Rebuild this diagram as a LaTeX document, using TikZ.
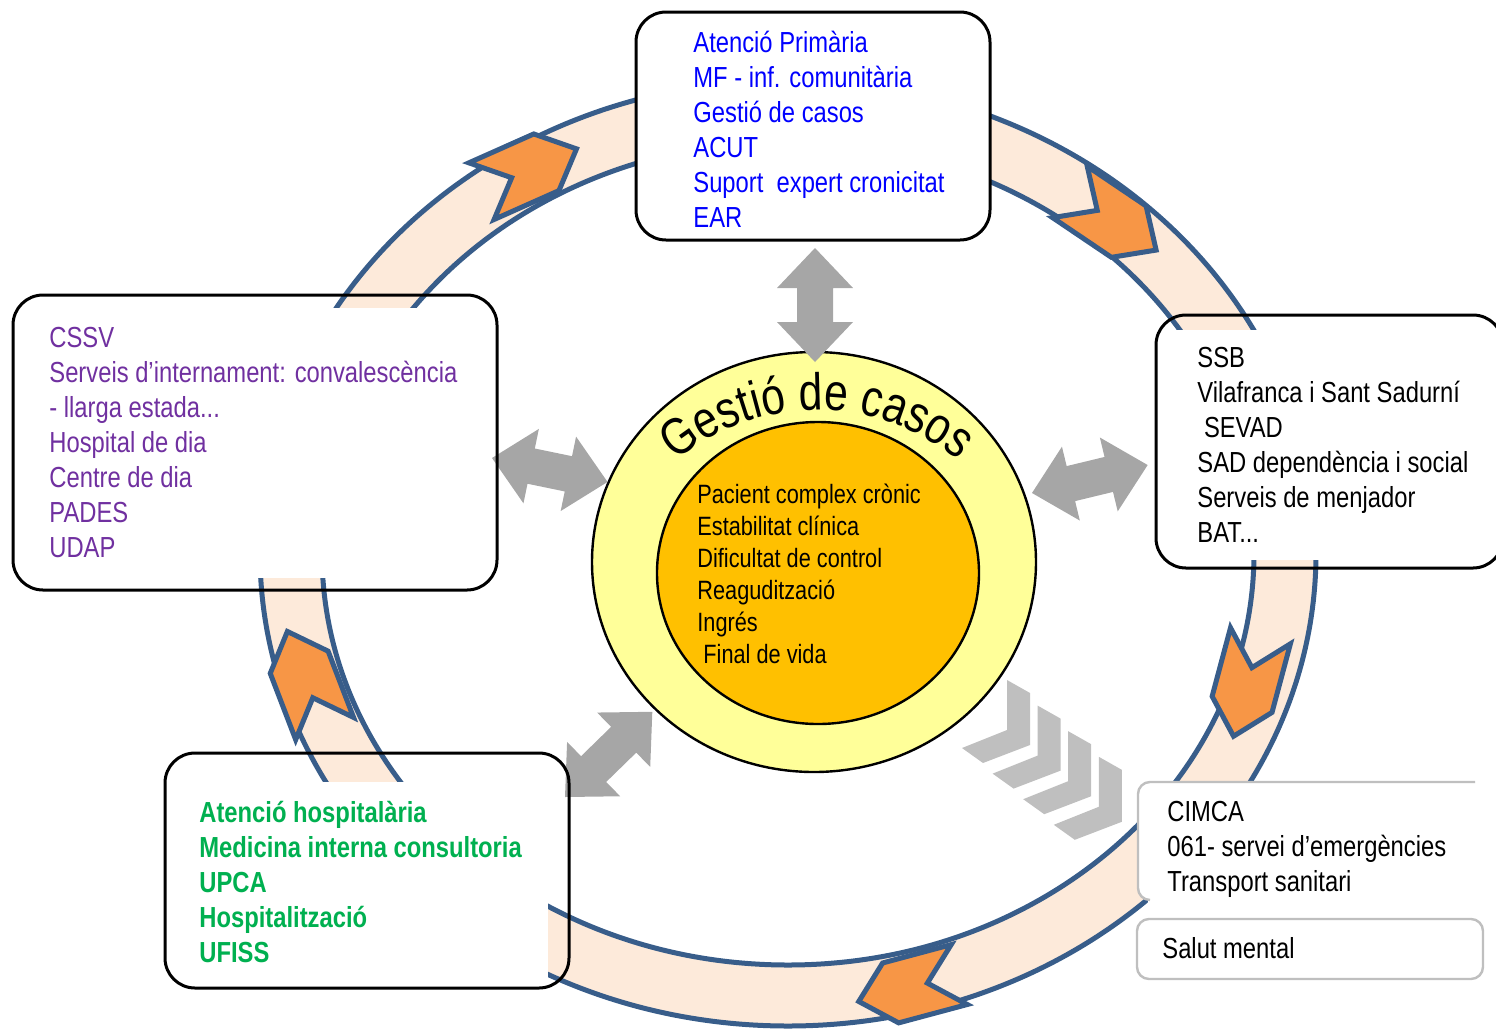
\documentclass[tikz,border=0pt]{standalone}
\usepackage{fontspec}
\setmainfont{Liberation Sans}[FakeStretch=0.82]
\usepackage{tikz}
\usetikzlibrary{decorations.text}
\definecolor{cRing}{HTML}{385D8A}
\definecolor{cBand}{HTML}{FDEADA}
\definecolor{cChev}{HTML}{F79646}
\definecolor{cArr}{HTML}{A6A6A6}
\definecolor{cStep}{HTML}{BFBFBF}
\definecolor{cYel}{HTML}{FFFF99}
\definecolor{cCore}{HTML}{FFC000}
\definecolor{cBlue}{HTML}{0000FF}
\definecolor{cPurp}{HTML}{7030A0}
\definecolor{cGreen}{HTML}{00B050}
\definecolor{cEdge}{HTML}{BFBFBF}
\tikzset{
  box/.style={draw=black, line width=1.5pt, rounded corners=15pt},
  gbox/.style={draw=cEdge, line width=1.2pt, rounded corners=6pt},
  cover/.style={fill=white},
  ringline/.style={draw=cRing, line width=2.5pt},
  disc/.style={draw=black, line width=1.2pt},
  txt/.style={anchor=north west, inner sep=0pt, align=left,
              font=\fontsize{14.5}{17.5}\selectfont},
  coretxt/.style={txt, font=\fontsize{13.25}{16}\selectfont},
  pics/dblarr/.style={code={
    \fill[cArr] (0,0) -- (40,38) -- (40,18) -- (#1-40,18) -- (#1-40,38)
      -- (#1,0) -- (#1-40,-38) -- (#1-40,-18) -- (40,-18) -- (40,-38) -- cycle;}},
  pics/notch/.style={code={
    \draw[ringline, fill=cChev, line join=miter]
      (-52,31) -- (19,31) -- (52,0) -- (19,-31) -- (-52,-31) -- (-19,0) -- cycle;}}
}
\begin{document}
\begin{tikzpicture}[x=0.5pt, y=-0.5pt]
\useasboundingbox (0,0) rectangle (1496,1030);
\coordinate (hub) at (788,553);
\coordinate (mid) at (814,562);
\coordinate (core) at (818,573);
% ----- ring -----
\fill[cBand, even odd rule] (hub) ellipse [x radius=528, y radius=473]
  (hub) ellipse [x radius=466, y radius=412];
\draw[ringline] (hub) ellipse [x radius=528, y radius=473];
\draw[ringline] (hub) ellipse [x radius=466, y radius=412];
\pic[rotate=24] at (529,170) {notch};
\pic[rotate=-34] at (1113,221) {notch};
\pic[rotate=-105] at (1247,686) {notch};
\pic[rotate=195] at (909,988) {notch};
\pic[rotate=111] at (306,680) {notch};
% ----- white text areas over the ring -----
\fill[cover, rounded corners=15pt] (636,12) rectangle (990,240);
\fill[cover] (15,308) rectangle (495,578);
\fill[cover] (1158,330) rectangle (1496,560);
\fill[cover] (167,782) rectangle (548,986);
\fill[cover, rounded corners=6pt] (1138,782) rectangle (1496,900);
\fill[cover] (1148,782) rectangle (1496,915);
% ----- centre -----
\draw[disc, fill=cYel] (mid) ellipse [x radius=222, y radius=210];
\draw[disc, fill=cCore] (core) ellipse [x radius=161, y radius=151];
\path[decorate, decoration={text along path, text align=center,
  text format delimiters={|}{|},
  text={|\fontsize{26}{30}\selectfont|Gestió de casos}}]
  (636.0,504.2) arc[start angle=-145, end angle=-35, radius=221];
% ----- grey arrows -----
\pic[rotate=90] at (815,362) {dblarr=114};
\pic[rotate=-11.7] at (492,458) {dblarr=118};
\pic[rotate=13.6] at (1032,493) {dblarr=119};
\pic[rotate=44.3] at (565,797) {dblarr=122};
\foreach \k in {0,...,3}
  \fill[cStep, shift={(30.6*\k,25.6*\k)}] (1007,680) -- (1030,693) -- (1030,745)
    -- (983,763) -- (962,748) -- (1007,730) -- cycle;
% ----- boxes -----
\draw[box] (636,12) rectangle (990,240);
\draw[box] (13,295) rectangle (497,590);
\draw[box] (1156,315) rectangle (1503,568);
\draw[box] (165,753) rectangle (569,988);
\draw[gbox] (1150,900) -| (1138,782) -- (1475,782);
\draw[gbox, fill=white] (1137,919) rectangle (1483,979);
% ----- texts -----
\node[txt, text=cBlue] (prim) at (693,31) {Atenció Primària\\MF - inf. comunitària\\Gestió de casos\\ACUT\\Suport\ \ expert cronicitat\\EAR};
\node[txt, text=cPurp] (cssv) at (49,327) {CSSV\\Serveis d’internament: convalescència\\- llarga estada...\\Hospital de dia\\Centre de dia\\PADES\\UDAP};
\node[txt] (ssb) at (1197,347) {SSB\\Vilafranca i Sant Sadurní\\\ SEVAD\\SAD dependència i social\\Serveis de menjador\\BAT...};
\node[txt, text=cGreen, font=\fontsize{14.5}{17.5}\selectfont\bfseries] (hosp) at (199,801) {Atenció hospitalària\\Medicina interna consultoria\\UPCA\\Hospitalització\\UFISS};
\node[txt] (cimca) at (1167,801) {CIMCA\\061- servei d’emergències\\Transport sanitari};
\node[txt] (salut) at (1162,937) {Salut mental};
\node[coretxt] (pac) at (697,483.5) {Pacient complex crònic\\Estabilitat clínica\\Dificultat de control\\Reagudització\\Ingrés\\\ Final de vida};
\end{tikzpicture}
\end{document}
